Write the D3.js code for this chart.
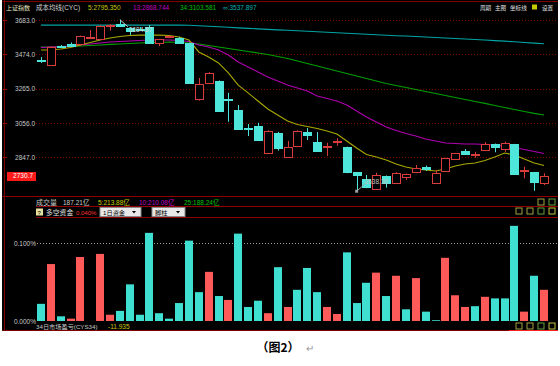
<!DOCTYPE html>
<html>
<head>
<meta charset="utf-8">
<script src="https://cdn.jsdelivr.net/npm/d3@7/dist/d3.min.js"></script>
<style>
  html, body { margin: 0; padding: 0; background: #fff; }
  svg { display: block; font-family: "Liberation Sans", Arial, "Noto Sans CJK SC", sans-serif; }
</style>
</head>
<body>
<svg id="chart" width="560" height="366"></svg>
<script>
// daily candles (上证指数)
const openP  = [3441,3408,3522,3537,3537,3580,3571,3653,3659,3634,3630,3639,3541,3578,3575,3541,3199,3297,3311,3198,3134,3025,3038,2876,2992,2849,2916,3000,2937,2914,2939,2906,2754,2711,2652,2731,2693,2727,2754,2783,2687,2760,2833,2884,2862,2890,2926,2894,2925,2766,2754,2690];
const highP  = [3457,3523,3530,3546,3588,3622,3650,3657,3684.87,3638,3640,3652,3567,3590,3580,3545,3329,3365,3314,3239,3164,3048,3056,3010,3000,2945,3010,3024,2999,2934,2961,2910,2756,2737,2751,2734,2754,2746,2798,2795,2768,2842,2872,2896,2879,2937,2929,2940,2927,2788,2756,2748];
const lowP   = [3421,3405,3512,3521,3534,3578,3568,3618,3644,3592,3615,3538,3524,3575,3544,3292,3191,3292,3124,3062,3012,2975,2948,2872,2886,2846,2908,2951,2880,2853,2916,2748,2638.3,2657,2649,2660,2690,2707,2751,2762,2684,2757,2830,2863,2843,2887,2876,2879,2740,2717,2641,2676];
const closeP = [3438,3520,3520,3524,3585,3582,3648,3654,3646,3616,3622,3541,3565,3583,3547,3297,3293,3361,3128,3192,3016,3019,2951,3008,2900,2910,3008,2981,2884,2917,2942,2751,2733,2660,2737,2690,2751,2743,2780,2768,2749,2839,2870,2865,2865,2925,2906,2931,2743,2769,2693,2730.7];

// cost moving averages CYC 5 / 13 / 34 / ∞
const cyc5   = [3500,3500,3506,3515,3530,3546,3561,3573,3582,3588,3591,3591,3591,3588,3579,3561,3488,3457,3421,3360,3286,3238,3189,3140,3103,3067,3045,3033,3021,3006,2987,2945,2902,2862,2847,2829,2804,2786,2774,2768,2762,2774,2792,2804,2810,2826,2847,2871,2859,2835,2810,2795.35];
const cyc13  = [3515,3518,3521,3524,3530,3537,3543,3549,3552,3555,3558,3561,3561,3561,3558,3552,3530,3518,3500,3469,3427,3396,3366,3335,3311,3286,3268,3250,3219,3204,3189,3164,3128,3091,3061,3030,3009,2990,2975,2957,2945,2932,2929,2926,2926,2923,2920,2914,2905,2893,2881,2868.744];
const cyc34  = [3518,3518,3521,3521,3524,3527,3530,3534,3537,3540,3543,3546,3546,3549,3546,3543,3537,3527,3518,3509,3500,3491,3482,3472,3460,3448,3433,3418,3402,3387,3372,3357,3341,3326,3311,3296,3283,3271,3259,3247,3235,3222,3210,3198,3186,3174,3161,3149,3137,3125,3113,3103.581];
const cycInf = [3652,3652,3652,3652,3652,3652,3652,3652,3652,3652,3652,3652,3652,3652,3652,3651,3648,3645,3642,3639,3635,3632,3629,3626,3623,3620,3617,3614,3611,3608,3605,3602,3599,3596,3593,3590,3587,3585,3582,3579,3576,3573,3570,3567,3564,3561,3557,3554,3550,3546,3542,3537.897];

// 多空资金 (%), positive = red, negative = cyan
const fundFlow = [-0.022,0.073,-0.006,0.003,0.082,0,0.086,0.008,-0.013,-0.047,-0.008,-0.113,-0.010,-0.003,-0.023,-0.103,-0.037,0.063,-0.032,0.027,-0.112,-0.018,-0.026,0.010,-0.069,0.018,-0.040,-0.068,-0.037,0.018,0.009,-0.088,-0.023,-0.049,0.062,-0.032,0.058,-0.015,0.055,-0.012,-0.001,0.081,0.033,0.018,-0.019,0.031,-0.029,-0.029,-0.122,0.012,-0.058,0.040];

const priceTicks = [3683.0, 3474.0, 3265.0, 3056.0, 2847.0];
const flowTicks = [0.1, 0];
const lastClose = 2730.7;
const highMark = { idx: 8, text: "3684.87" };
const lowMark = { idx: 32, text: "2638.30" };

const RED = "#d83c3c", CYAN = "#4ee6da", BAR_RED = "#ff5a5a", BAR_CYAN = "#3fe0d2";
const GRID = "#7a0000";

const svg = d3.select("#chart");

// black terminal panel
svg.append("rect").attr("x", 2).attr("y", 0).attr("width", 556).attr("height", 331).attr("fill", "#000");

const idx = d3.range(openP.length);
const x = d3.scaleBand().domain(idx).range([36, 549]).padding(0);
const cx = (i) => x(i) + x.bandwidth() / 2;
const y = d3.scaleLinear().domain([2847, 3683]).range([157, 20]);
const yf = d3.scaleLinear().domain([0, 0.1]).range([321, 243]);

// panel separator lines
const hl = (yy, x1, x2, col) =>
  svg.append("line").attr("x1", x1).attr("x2", x2).attr("y1", yy).attr("y2", yy)
    .attr("stroke", col).attr("stroke-width", 1);
hl(1.5, 2, 558, "#800000");
hl(196.5, 2, 558, "#900000");
hl(206.5, 36, 558, "#900000");
hl(217.5, 36, 558, "#900000");
hl(330.5, 2, 558, "#800000");
hl(330.5, 509, 558, "#ff2020");
svg.append("line").attr("x1", 4.5).attr("x2", 4.5).attr("y1", 0).attr("y2", 331)
  .attr("stroke", "#800000");

// price axis + dotted grid
const yAxis = d3.axisLeft(y).tickValues(priceTicks).tickFormat(d3.format(".1f")).tickSize(0).tickPadding(0);
const gy = svg.append("g").attr("transform", "translate(35,0)").call(yAxis);
gy.select(".domain").remove();
gy.selectAll("text").attr("fill", "#c8c8c8").attr("font-size", 6.5).attr("dy", "0.35em");
svg.append("g").selectAll("line").data(priceTicks).join("line")
  .attr("x1", 36).attr("x2", 557)
  .attr("y1", (d) => Math.round(y(d)) + 0.5).attr("y2", (d) => Math.round(y(d)) + 0.5)
  .attr("stroke", GRID).attr("stroke-dasharray", "1,2");
svg.append("g").selectAll("line").data(priceTicks).join("line")
  .attr("x1", 3).attr("x2", 7)
  .attr("y1", (d) => Math.round(y(d)) + 0.5).attr("y2", (d) => Math.round(y(d)) + 0.5)
  .attr("stroke", "#a00000");

// cost lines
const line = (arr) => d3.line().x((d, i) => cx(i)).y((d) => y(d))(arr);
[[cycInf, "#00a4a4"], [cyc34, "#00a000"], [cyc13, "#b000b0"], [cyc5, "#a8a800"]].forEach(([arr, col]) => {
  svg.append("path").attr("d", line(arr)).attr("fill", "none").attr("stroke", col).attr("stroke-width", 1.1);
});

// candles
const candles = svg.append("g").selectAll("g").data(idx).join("g");
candles.append("line")
  .attr("x1", (i) => Math.round(cx(i)) + 0.5).attr("x2", (i) => Math.round(cx(i)) + 0.5)
  .attr("y1", (i) => y(highP[i])).attr("y2", (i) => y(lowP[i]))
  .attr("stroke", (i) => (closeP[i] >= openP[i] ? RED : CYAN));
candles.append("rect")
  .attr("x", (i) => Math.round(cx(i)) - 3.5)
  .attr("width", 8)
  .attr("y", (i) => Math.round(y(Math.max(openP[i], closeP[i]))) + 0.5)
  .attr("height", (i) => Math.max(1, Math.round(y(Math.min(openP[i], closeP[i])) - y(Math.max(openP[i], closeP[i])))))
  .attr("fill", (i) => (closeP[i] >= openP[i] ? "#000" : CYAN))
  .attr("stroke", (i) => (closeP[i] >= openP[i] ? RED : CYAN))
  .attr("stroke-width", 1);

// high / low markers
const hx = cx(highMark.idx), hy = y(highP[highMark.idx]);
svg.append("line").attr("x1", hx).attr("y1", hy).attr("x2", hx + 8).attr("y2", hy + 7).attr("stroke", "#d0d0d0");
svg.append("text").attr("x", hx + 9).attr("y", hy + 12).attr("fill", "#d8d8d8").attr("font-size", 6.5).text(highMark.text);
const lx = cx(lowMark.idx), ly = y(lowP[lowMark.idx]);
svg.append("rect").attr("x", lx - 1.5).attr("y", ly - 1.5).attr("width", 3).attr("height", 3).attr("fill", "#a0a0a0");
svg.append("line").attr("x1", lx).attr("y1", ly).attr("x2", lx + 8).attr("y2", ly - 7).attr("stroke", "#a0a0a0");
svg.append("text").attr("x", lx + 8).attr("y", ly - 7).attr("fill", "#c0c0c0").attr("font-size", 6.5).text(lowMark.text);

// last price box
svg.append("rect").attr("x", 7).attr("y", Math.round(y(lastClose)) - 4).attr("width", 29).attr("height", 9).attr("fill", "#ff1a1a");
svg.append("text").attr("x", 33).attr("y", y(lastClose)).attr("dy", "0.35em").attr("text-anchor", "end")
  .attr("fill", "#fff").attr("font-size", 6.5).text(lastClose.toFixed(1));

// header texts
const txt = (xx, yy, s, col, size = 6.5) =>
  svg.append("text").attr("x", xx).attr("y", yy).attr("fill", col).attr("font-size", size).text(s);
txt(6, 10, "上证指数", "#e8e8c0", 6);
txt(36, 10, "成本均线(CYC)", "#d0d0d0", 6.5);
txt(88, 10, "5:" + cyc5[cyc5.length - 1].toFixed(3), "#c8c800", 6.5);
txt(133, 10, "13:" + cyc13[cyc13.length - 1].toFixed(3), "#c000c0", 6.5);
txt(180, 10, "34:" + cyc34[cyc34.length - 1].toFixed(3), "#00c000", 6.5);
txt(223, 10, "∞:" + cycInf[cycInf.length - 1].toFixed(3), "#00b0b0", 6.5);
txt(480, 10, "周期", "#e0e0e0", 5.6);
txt(495, 10, "主图", "#e0e0e0", 5.6);
txt(510, 10, "坐标线", "#e0e0e0", 5.6);
svg.append("rect").attr("x", 532).attr("y", 4.5).attr("width", 5).attr("height", 5).attr("fill", "#c8c800");
txt(542, 10, "设置", "#e0e0e0", 5.6);

// volume row (collapsed)
txt(36, 205, "成交量", "#c8c8c8", 7);
txt(63, 205, "187.21亿", "#c8c8c8", 6.5);
txt(98, 205, "5:213.88亿", "#c8c800", 6.5);
txt(139, 205, "10:210.08亿", "#c000c0", 6.5);
txt(184, 205, "25:188.24亿", "#00c000", 6.5);

// 多空资金 row
svg.append("rect").attr("x", 36).attr("y", 208.5).attr("width", 7).attr("height", 7).attr("fill", "#e8e0a0");
txt(37.5, 214.5, "?", "#000", 6);
txt(46, 215, "多空资金", "#e0e0e0", 6.8);
txt(76, 215, "0.040%", "#ff3030", 6);
[[100, 41, "1日资金"], [152, 33, "脚柱"]].forEach(([bx, bw, s]) => {
  svg.append("rect").attr("x", bx).attr("y", 207.5).attr("width", bw).attr("height", 9).attr("fill", "#e8e8e8").attr("stroke", "#888");
  txt(bx + 3, 215, s, "#000", 6.2);
  svg.append("path").attr("d", `M${bx + bw - 9},211 l4,0 l-2,2.5z`).attr("fill", "#000");
});

// small tool icons on the right
const icon = (ix, iy, col) =>
  svg.append("rect").attr("x", ix).attr("y", iy).attr("width", 6).attr("height", 6).attr("fill", "none").attr("stroke", col);
icon(538, 199, "#a0a040"); icon(549, 199, "#60a040");
[516, 527, 538, 549].forEach((ix, j) => icon(ix, 208, ["#a0a040", "#a0a040", "#60a040", "#c0c040"][j]));
[516, 527, 538, 549].forEach((ix, j) => icon(ix, 323, ["#a0a040", "#a0a040", "#60a040", "#c0c040"][j]));

// fund-flow bars
const fAxis = d3.axisLeft(yf).tickValues(flowTicks).tickFormat((d) => d.toFixed(3) + "%").tickSize(0).tickPadding(0);
const gf = svg.append("g").attr("transform", "translate(36,0)").call(fAxis);
gf.select(".domain").remove();
gf.selectAll("text").attr("fill", "#c8c8c8").attr("font-size", 6.5).attr("dy", "0.35em");
svg.append("line").attr("x1", 37).attr("x2", 557).attr("y1", Math.round(yf(0.1)) + 0.5).attr("y2", Math.round(yf(0.1)) + 0.5)
  .attr("stroke", "#a0a0a0").attr("stroke-dasharray", "1,2");
svg.append("g").selectAll("rect").data(idx).join("rect")
  .attr("x", (i) => Math.round(cx(i)) - 4)
  .attr("width", 8)
  .attr("y", (i) => yf(Math.abs(fundFlow[i])))
  .attr("height", (i) => yf(0) - yf(Math.abs(fundFlow[i])))
  .attr("fill", (i) => (fundFlow[i] >= 0 ? BAR_RED : BAR_CYAN));

// bottom indicator row
txt(36, 329, "34日市场盈亏(CYS34)", "#c8c8c8", 6.2);
txt(108, 329, "-11.935", "#c8c800", 6.5);

// caption
svg.append("text").attr("x", 278).attr("y", 352).attr("text-anchor", "middle")
  .attr("font-family", "'Noto Sans CJK SC', sans-serif").attr("font-weight", "bold").attr("font-size", 12)
  .attr("fill", "#000").text("（图2）");
svg.append("text").attr("x", 306).attr("y", 352).attr("fill", "#999").attr("font-size", 10).text("↵");
</script>
</body>
</html>
